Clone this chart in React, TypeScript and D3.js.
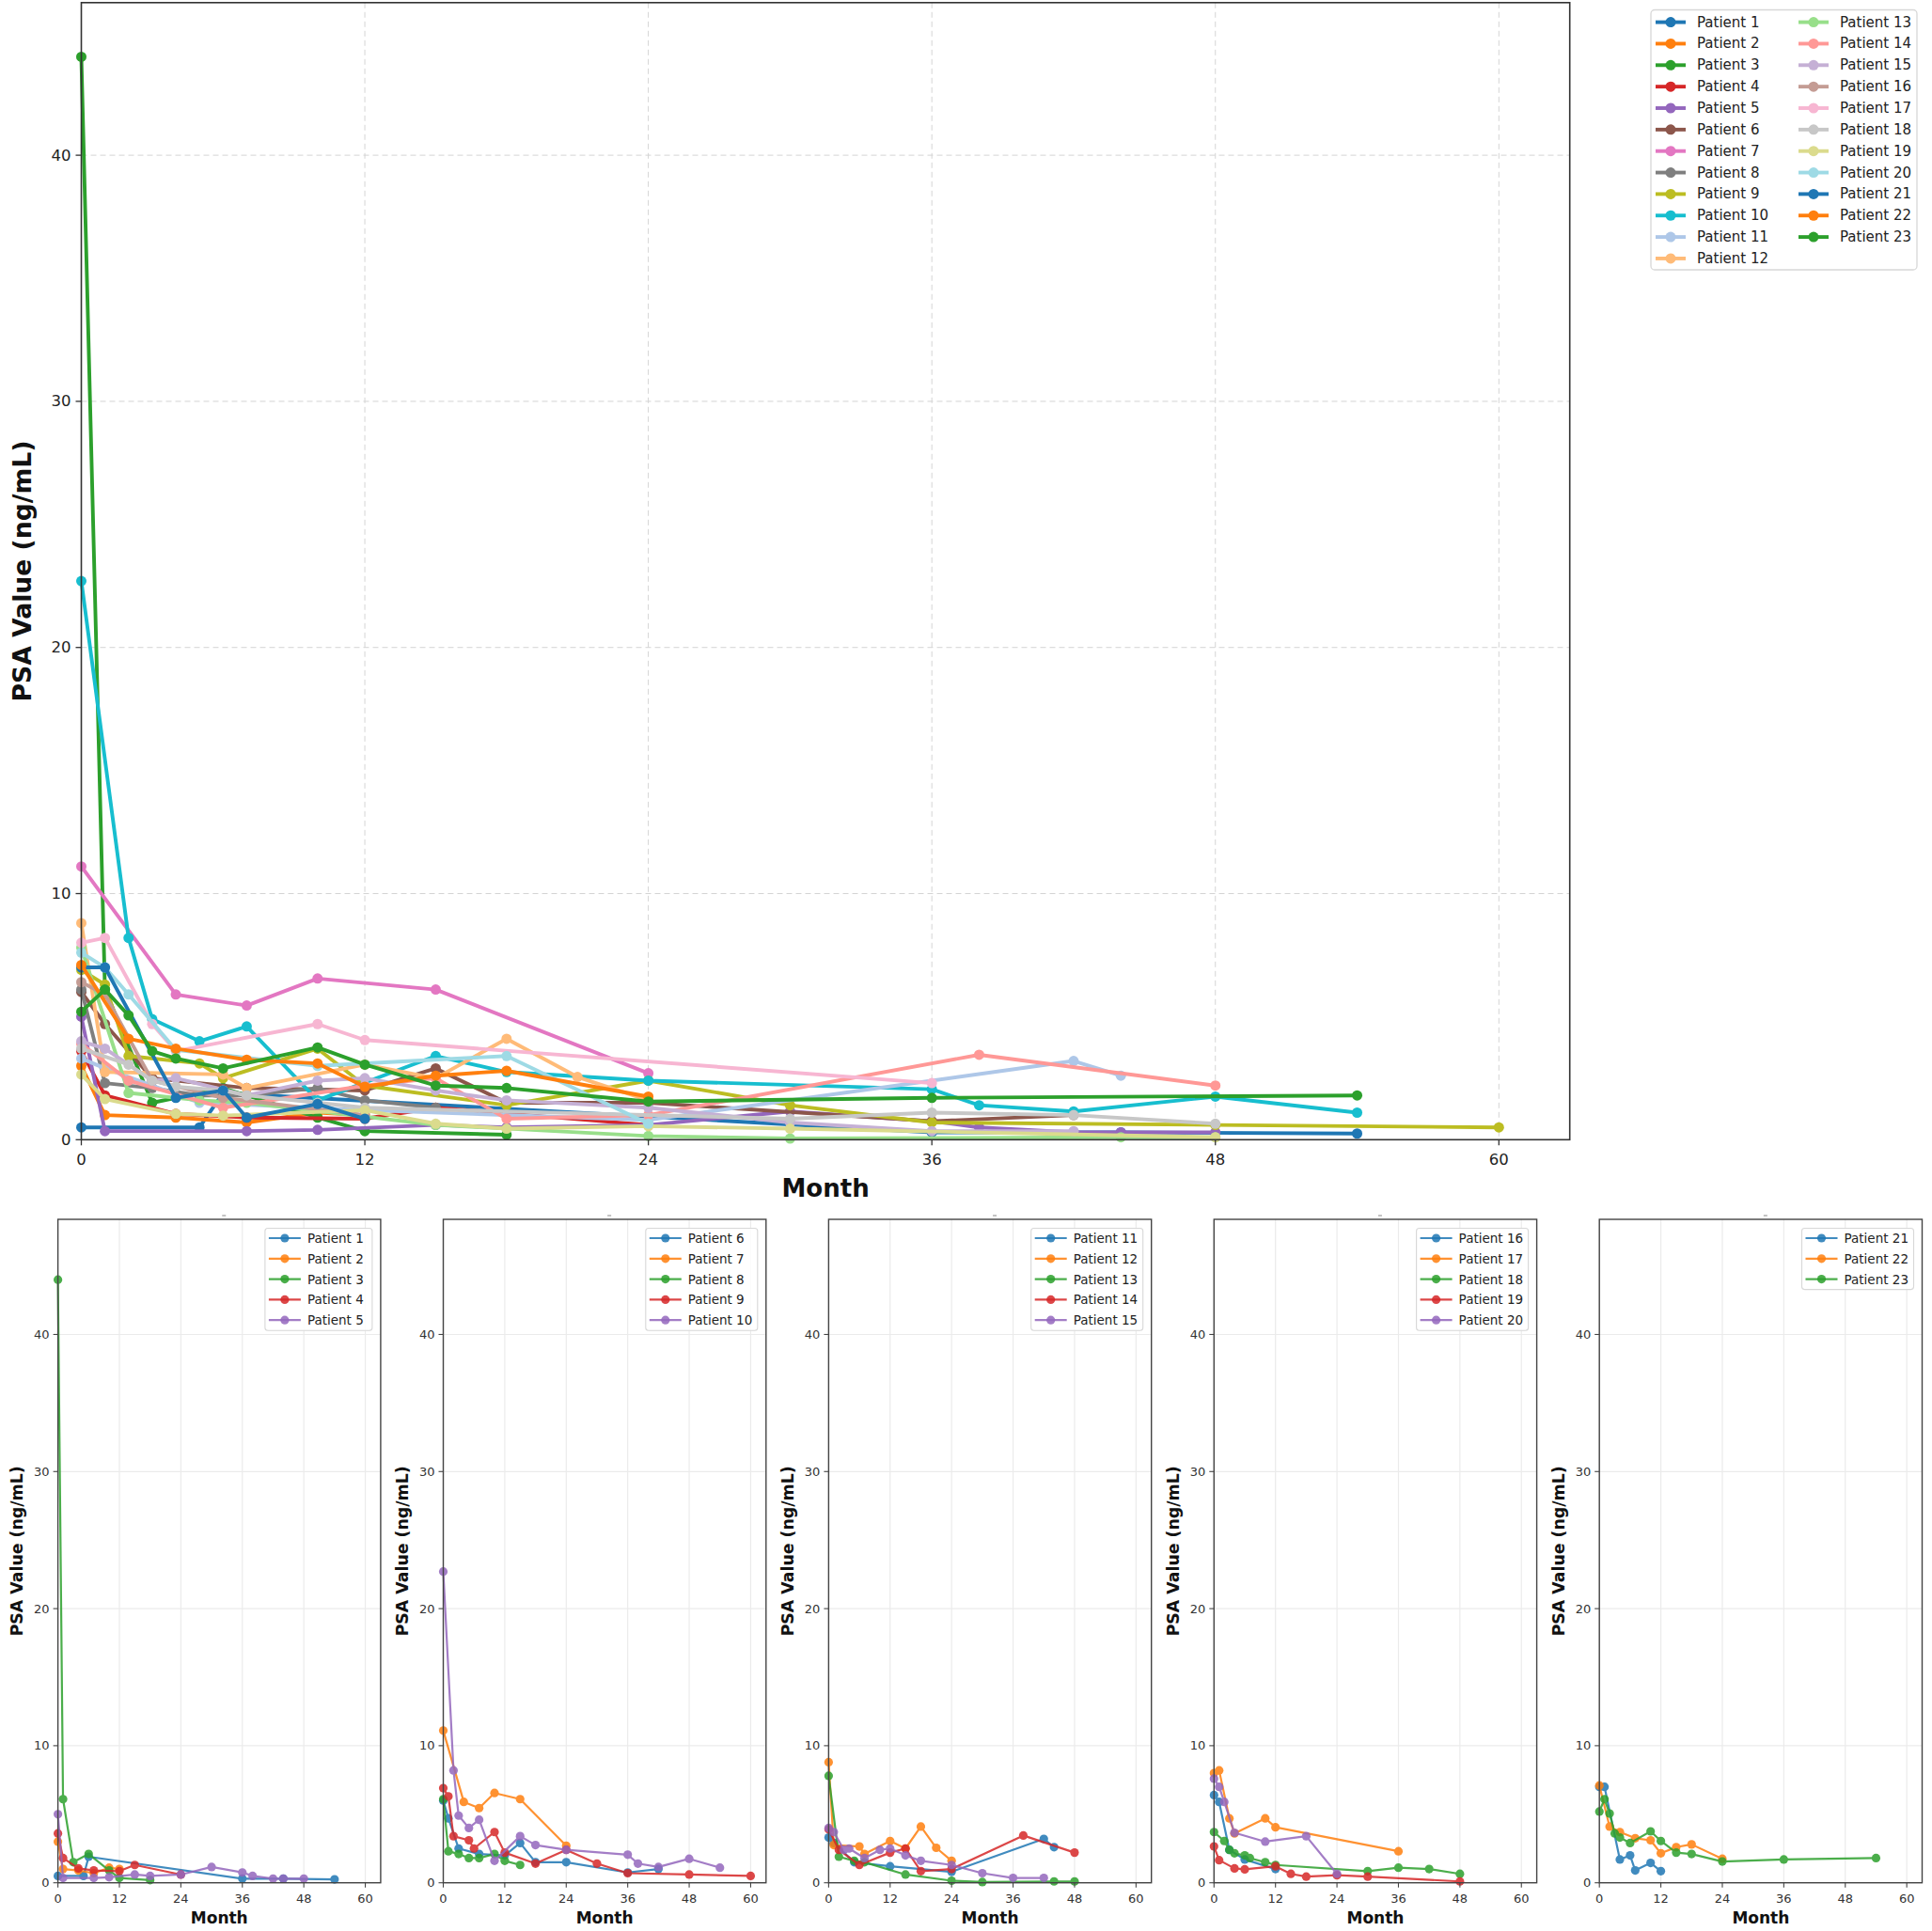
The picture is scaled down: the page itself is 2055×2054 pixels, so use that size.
import React, { useEffect } from 'react';
import * as d3 from 'd3';

const W = 2055;
const H = 2054;
const FONT = '"DejaVu Sans", sans-serif';

// patient labels
const patientNames = d3.range(1, 24).map((i) => `Patient ${i}`);

// months of each PSA measurement, one row per patient
const patientMonths: number[][] = [
  [0, 5, 6, 36, 44, 54],
  [0, 1, 4, 7, 10, 12],
  [0, 1, 3, 6, 10, 12, 18],
  [0, 1, 4, 7, 12, 15, 24],
  [0, 1, 7, 10, 15, 18, 24, 30, 36, 38, 42, 44, 48],
  [0, 1, 3, 7, 12, 15, 18, 24, 36, 42],
  [0, 4, 7, 10, 15, 24],
  [0, 1, 3, 5, 7, 10, 12, 15],
  [0, 1, 2, 5, 6, 10, 12, 18, 24, 30, 36, 48, 60],
  [0, 2, 3, 5, 7, 10, 15, 18, 24, 36, 38, 42, 48, 54],
  [0, 1, 5, 12, 24, 42, 44],
  [0, 1, 6, 7, 12, 15, 18, 21, 24],
  [0, 2, 5, 7, 15, 24, 30, 44, 48],
  [0, 2, 6, 12, 15, 18, 24, 38, 48],
  [0, 1, 3, 4, 7, 10, 12, 15, 18, 24, 30, 36, 42],
  [0, 1, 3, 6, 12],
  [0, 1, 3, 4, 10, 12, 36],
  [0, 2, 3, 4, 6, 7, 10, 12, 30, 36, 42, 48],
  [0, 1, 4, 6, 12, 15, 18, 24, 30, 48],
  [0, 1, 2, 4, 10, 18, 24],
  [0, 1, 4, 6, 7, 10, 12],
  [0, 2, 4, 7, 10, 12, 15, 18, 24],
  [0, 1, 2, 3, 4, 6, 10, 12, 15, 18, 24, 36, 54],
];

// PSA values (ng/mL), matching patientMonths
const patientPsa: number[][] = [
  [0.5, 0.5, 1.9, 0.3, 0.3, 0.25],
  [3.0, 1.0, 0.9, 0.7, 1.1, 1.0],
  [44.0, 6.1, 1.5, 2.1, 0.9, 0.35, 0.2],
  [3.6, 1.8, 1.05, 0.9, 0.85, 1.3, 0.6],
  [5.0, 0.35, 0.35, 0.4, 0.6, 0.5, 0.6, 1.15, 0.75, 0.5, 0.3, 0.3, 0.3],
  [6.0, 4.7, 2.5, 2.1, 2.0, 2.9, 1.5, 1.5, 0.75, 1.0],
  [11.1, 5.9, 5.45, 6.55, 6.1, 2.7],
  [6.1, 2.3, 2.1, 1.8, 1.8, 2.1, 1.6, 1.3],
  [6.9, 6.3, 3.4, 3.1, 2.5, 3.7, 2.2, 1.4, 2.4, 1.4, 0.7, 0.6, 0.5],
  [22.7, 8.2, 4.9, 4.0, 4.6, 1.6, 3.4, 2.75, 2.4, 2.05, 1.4, 1.15, 1.75, 1.1],
  [3.3, 2.9, 1.5, 1.2, 0.8, 3.2, 2.6],
  [8.8, 2.75, 2.65, 2.1, 3.05, 2.5, 4.1, 2.55, 1.6],
  [7.8, 1.9, 1.6, 1.5, 0.6, 0.15, 0.05, 0.1, 0.1],
  [3.9, 2.4, 1.3, 2.2, 2.5, 0.85, 1.0, 3.45, 2.2],
  [4.0, 3.7, 2.4, 2.5, 1.8, 2.4, 2.5, 2.0, 1.6, 1.3, 0.7, 0.35, 0.35],
  [6.4, 5.9, 2.4, 1.7, 1.0],
  [8.0, 8.2, 4.7, 3.6, 4.7, 4.05, 2.3],
  [3.7, 3.05, 2.4, 2.15, 2.0, 1.8, 1.5, 1.3, 0.85, 1.1, 1.0, 0.65],
  [2.65, 1.65, 1.05, 0.98, 1.2, 0.65, 0.45, 0.55, 0.45, 0.1],
  [7.6, 7.0, 5.9, 3.65, 3.0, 3.4, 0.65],
  [7.0, 7.0, 1.7, 2.0, 0.9, 1.45, 0.85],
  [7.1, 4.1, 3.7, 3.25, 3.1, 2.15, 2.6, 2.8, 1.75],
  [5.2, 6.1, 5.05, 3.6, 3.3, 2.9, 3.75, 3.05, 2.2, 2.1, 1.55, 1.7, 1.8],
];

const mainColors = [
  '#1f77b4', '#ff7f0e', '#2ca02c', '#d62728', '#9467bd',
  '#8c564b', '#e377c2', '#7f7f7f', '#bcbd22', '#17becf',
  '#aec7e8', '#ffbb78', '#98df8a', '#ff9896', '#c5b0d5',
  '#c49c94', '#f7b6d2', '#c7c7c7', '#dbdb8d', '#9edae5',
  '#1f77b4', '#ff7f0e', '#2ca02c',
];
const panelColors = ['#1f77b4', '#ff7f0e', '#2ca02c', '#d62728', '#9467bd'];

const xTicks = [0, 12, 24, 36, 48, 60];
const yTicks = [0, 10, 20, 30, 40];

const series = patientNames.map((name, i) => ({
  name,
  idx: i,
  pts: patientMonths[i].map((m, j) => ({ m, v: patientPsa[i][j] })),
}));

const maxPsa = d3.max(patientPsa.flat()) as number;

// main plot box
const M = { left: 86.5, right: 1669.7, top: 2.8, bottom: 1212.3 };
const xMain = d3.scaleLinear().domain([0, 63]).range([M.left, M.right]);
const yMain = d3.scaleLinear().domain([0, maxPsa * 1.05]).range([M.bottom, M.top]);

// small panels
const P = { left0: 61.6, step: 409.9, width: 343.3, top: 1297, bottom: 2002.7 };
const groups = [0, 1, 2, 3, 4].map((g) => series.slice(g * 5, g * 5 + 5));

const MainChart = () => {
  const line = d3.line<{ m: number; v: number }>()
    .x((d) => xMain(d.m))
    .y((d) => yMain(d.v));
  const midY = (M.top + M.bottom) / 2;
  const legX = 1756, legY = 10.5, legW = 283, legH = 276.5, rowH = 22.85;
  return (
    <g>
      {/* grid */}
      {yTicks.filter((t) => t > 0).map((t) => (
        <line key={'gy' + t} x1={M.left} x2={M.right} y1={yMain(t)} y2={yMain(t)}
          stroke="#d4d4d4" strokeWidth={1} strokeDasharray="6,4" />
      ))}
      {xTicks.filter((t) => t > 0).map((t) => (
        <line key={'gx' + t} x1={xMain(t)} x2={xMain(t)} y1={M.top} y2={M.bottom}
          stroke="#d4d4d4" strokeWidth={1} strokeDasharray="6,4" />
      ))}
      {/* series */}
      {series.map((s) => (
        <g key={s.name}>
          <path d={line(s.pts) as string} fill="none" stroke={mainColors[s.idx]}
            strokeWidth={3.9} strokeLinejoin="round" />
          {s.pts.map((p, j) => (
            <circle key={j} cx={xMain(p.m)} cy={yMain(p.v)} r={5.5} fill={mainColors[s.idx]} />
          ))}
        </g>
      ))}
      {/* frame */}
      <rect x={M.left} y={M.top} width={M.right - M.left} height={M.bottom - M.top}
        fill="none" stroke="#333" strokeWidth={1.6} />
      {/* ticks */}
      {yTicks.map((t) => (
        <g key={'ty' + t}>
          <line x1={M.left - 6} x2={M.left} y1={yMain(t)} y2={yMain(t)} stroke="#333" strokeWidth={1.3} />
          <text x={M.left - 11} y={yMain(t)} textAnchor="end" dominantBaseline="central"
            fontSize={16.5} fontFamily={FONT} fill="#222">{t}</text>
        </g>
      ))}
      {xTicks.map((t) => (
        <g key={'tx' + t}>
          <line x1={xMain(t)} x2={xMain(t)} y1={M.bottom} y2={M.bottom + 6} stroke="#333" strokeWidth={1.3} />
          <text x={xMain(t)} y={M.bottom + 21} textAnchor="middle" dominantBaseline="central"
            fontSize={16.5} fontFamily={FONT} fill="#222">{t}</text>
        </g>
      ))}
      <text x={(M.left + M.right) / 2} y={1264} textAnchor="middle" dominantBaseline="central"
        fontSize={26} fontWeight="bold" fontFamily={FONT} fill="#111">Month</text>
      <text transform={`translate(24,${midY}) rotate(-90)`} textAnchor="middle" dominantBaseline="central"
        fontSize={26} fontWeight="bold" fontFamily={FONT} fill="#111"
        textLength={278} lengthAdjust="spacingAndGlyphs">PSA Value (ng/mL)</text>
      {/* legend */}
      <rect x={legX} y={legY} width={legW} height={legH} rx={4} fill="#fff" stroke="#d8d8d8" strokeWidth={1.3} />
      {series.map((s, i) => {
        const col = i < 12 ? 0 : 1;
        const row = i < 12 ? i : i - 12;
        const hx = col === 0 ? 1761 : 1913;
        const cy = 23.6 + row * rowH;
        return (
          <g key={'lg' + i}>
            <line x1={hx} x2={hx + 32} y1={cy} y2={cy} stroke={mainColors[i]} strokeWidth={3.9} />
            <circle cx={hx + 16} cy={cy} r={5.5} fill={mainColors[i]} />
            <text x={hx + 44} y={cy} dominantBaseline="central" fontSize={15} fontFamily={FONT} fill="#222">{s.name}</text>
          </g>
        );
      })}
    </g>
  );
};

const Panel = ({ gi }: { gi: number }) => {
  const left = P.left0 + gi * P.step;
  const right = left + P.width;
  const x = d3.scaleLinear().domain([0, 63]).range([left, right]);
  const y = d3.scaleLinear().domain([0, maxPsa * 1.1]).range([P.bottom, P.top]);
  const line = d3.line<{ m: number; v: number }>().x((d) => x(d.m)).y((d) => y(d.v));
  const grp = groups[gi];
  const boxW = gi === 0 ? 114 : 119;
  const boxX = right - 9 - boxW;
  const boxY = P.top + 9.5;
  const boxH = 10.5 + (grp.length - 1) * 21.8 + 11;
  const cx = (left + right) / 2 + 5;
  return (
    <g>
      {yTicks.map((t) => (
        <line key={'gy' + t} x1={left} x2={right} y1={y(t)} y2={y(t)} stroke="#ebebeb" strokeWidth={1.2} />
      ))}
      {xTicks.map((t) => (
        <line key={'gx' + t} x1={x(t)} x2={x(t)} y1={P.top} y2={P.bottom} stroke="#ebebeb" strokeWidth={1.2} />
      ))}
      {grp.map((s, k) => (
        <g key={s.name} opacity={0.85}>
          <path d={line(s.pts) as string} fill="none" stroke={panelColors[k]} strokeWidth={2.2} strokeLinejoin="round" />
          {s.pts.map((p, j) => (
            <circle key={j} cx={x(p.m)} cy={y(p.v)} r={4.6} fill={panelColors[k]} />
          ))}
        </g>
      ))}
      <rect x={left} y={P.top} width={P.width} height={P.bottom - P.top} fill="none" stroke="#444" strokeWidth={1.4} />
      {/* remnant of a clipped panel title */}
      <line x1={cx - 2} x2={cx + 2} y1={P.top - 4} y2={P.top - 4} stroke="#888" strokeWidth={1} />
      {yTicks.map((t) => (
        <g key={'ty' + t}>
          <line x1={left - 5} x2={left} y1={y(t)} y2={y(t)} stroke="#444" strokeWidth={1.1} />
          <text x={left - 9} y={y(t)} textAnchor="end" dominantBaseline="central"
            fontSize={13} fontFamily={FONT} fill="#333">{t}</text>
        </g>
      ))}
      {xTicks.map((t) => (
        <g key={'tx' + t}>
          <line x1={x(t)} x2={x(t)} y1={P.bottom} y2={P.bottom + 5} stroke="#444" strokeWidth={1.1} />
          <text x={x(t)} y={2019.5} textAnchor="middle" dominantBaseline="central"
            fontSize={13} fontFamily={FONT} fill="#333">{t}</text>
        </g>
      ))}
      <text x={(left + right) / 2} y={2039.5} textAnchor="middle" dominantBaseline="central"
        fontSize={17} fontWeight="bold" fontFamily={FONT} fill="#111">Month</text>
      <text transform={`translate(${left - 43.3},${(P.top + P.bottom) / 2}) rotate(-90)`} textAnchor="middle"
        dominantBaseline="central" fontSize={17} fontWeight="bold" fontFamily={FONT} fill="#111"
        textLength={181} lengthAdjust="spacingAndGlyphs">PSA Value (ng/mL)</text>
      <rect x={boxX} y={boxY} width={boxW} height={boxH} rx={3} fill="#fff" fillOpacity={0.85}
        stroke="#d8d8d8" strokeWidth={1.1} />
      {grp.map((s, k) => {
        const cy = boxY + 10.5 + k * 21.8;
        return (
          <g key={'lg' + k}>
            <line x1={boxX + 4} x2={boxX + 38} y1={cy} y2={cy} stroke={panelColors[k]} strokeWidth={2.2} opacity={0.85} />
            <circle cx={boxX + 21} cy={cy} r={4.6} fill={panelColors[k]} opacity={0.85} />
            <text x={boxX + 45} y={cy} dominantBaseline="central" fontSize={13.5} fontFamily={FONT} fill="#222">{s.name}</text>
          </g>
        );
      })}
    </g>
  );
};

export default function App() {
  useEffect(() => {
    document.body.style.margin = '0';
  }, []);
  return (
    <svg width={W} height={H} viewBox={`0 0 ${W} ${H}`} style={{ display: 'block', background: '#fff' }}>
      <rect width={W} height={H} fill="#fff" />
      <MainChart />
      {[0, 1, 2, 3, 4].map((gi) => <Panel key={gi} gi={gi} />)}
    </svg>
  );
}
